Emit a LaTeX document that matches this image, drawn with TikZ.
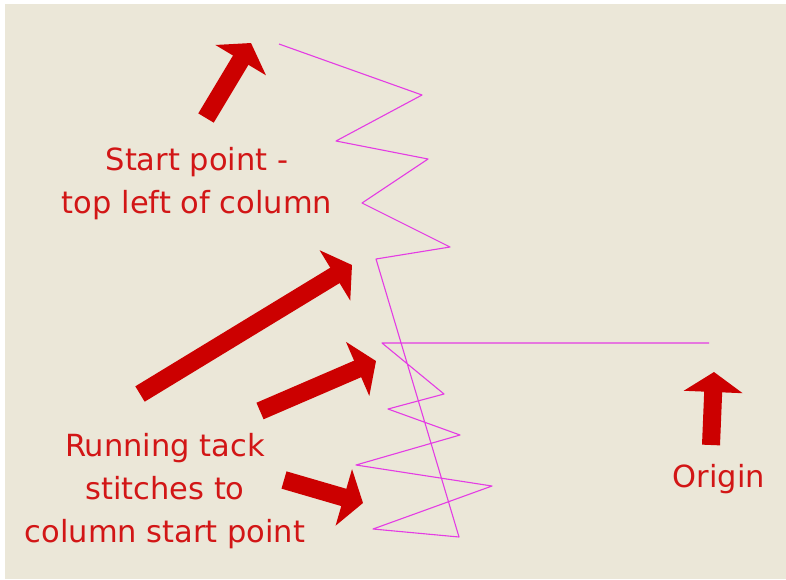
\documentclass[tikz,border=0pt]{standalone}
\usepackage{fontspec}
\setmainfont{DejaVu Sans}
\usetikzlibrary{arrows.meta}
\definecolor{bgbeige}{RGB}{235,231,216}
\definecolor{tackred}{RGB}{204,0,0}
\definecolor{labelred}{RGB}{210,22,22}
\definecolor{stitch}{RGB}{228,60,228}
\begin{document}
\begin{tikzpicture}[x=1pt,y=-1pt,line join=round,
  bigarrow/.style={draw=tackred,line width=18pt,-{Triangle[length=20pt,width=58pt]}},
  lab/.style={text=labelred,align=center,font=\fontsize{30.5}{43}\selectfont}]
 \useasboundingbox (0,0) rectangle (786,579);
 \fill[bgbeige] (5,4) rectangle (786,579);
 % the stitches, from the origin back to the top of the column
 \draw[stitch,line width=1.1pt] (709,343) -- (382,343) -- (444,394) -- (388,409)
   -- (460,435) -- (356,465) -- (492,486) -- (373,529) -- (459,537)
   -- (376,259) -- (450,247) -- (362,203) -- (428,159) -- (336,141)
   -- (422,95) -- (279,44);
 % arrow ends
 \coordinate (a0) at (206,118); \coordinate (a1) at (251,43);
 \coordinate (b0) at (140,394); \coordinate (b1) at (352,265);
 \coordinate (c0) at (260,411); \coordinate (c1) at (376,361);
 \coordinate (d0) at (284,480); \coordinate (d1) at (363,503);
 \coordinate (e0) at (711,445); \coordinate (e1) at (714,372);
 \foreach \n in {a,b,c,d,e} \draw[bigarrow] (\n0) -- (\n1);
 \node[lab] (startlab) at (197,184) {Start point -\\top left of column};
 \node[lab] (tacklab) at (165,491) {Running tack\\stitches to\\column start point};
 \node[lab,anchor=base] (originlab) at (719,487) {Origin};
\end{tikzpicture}
\end{document}
